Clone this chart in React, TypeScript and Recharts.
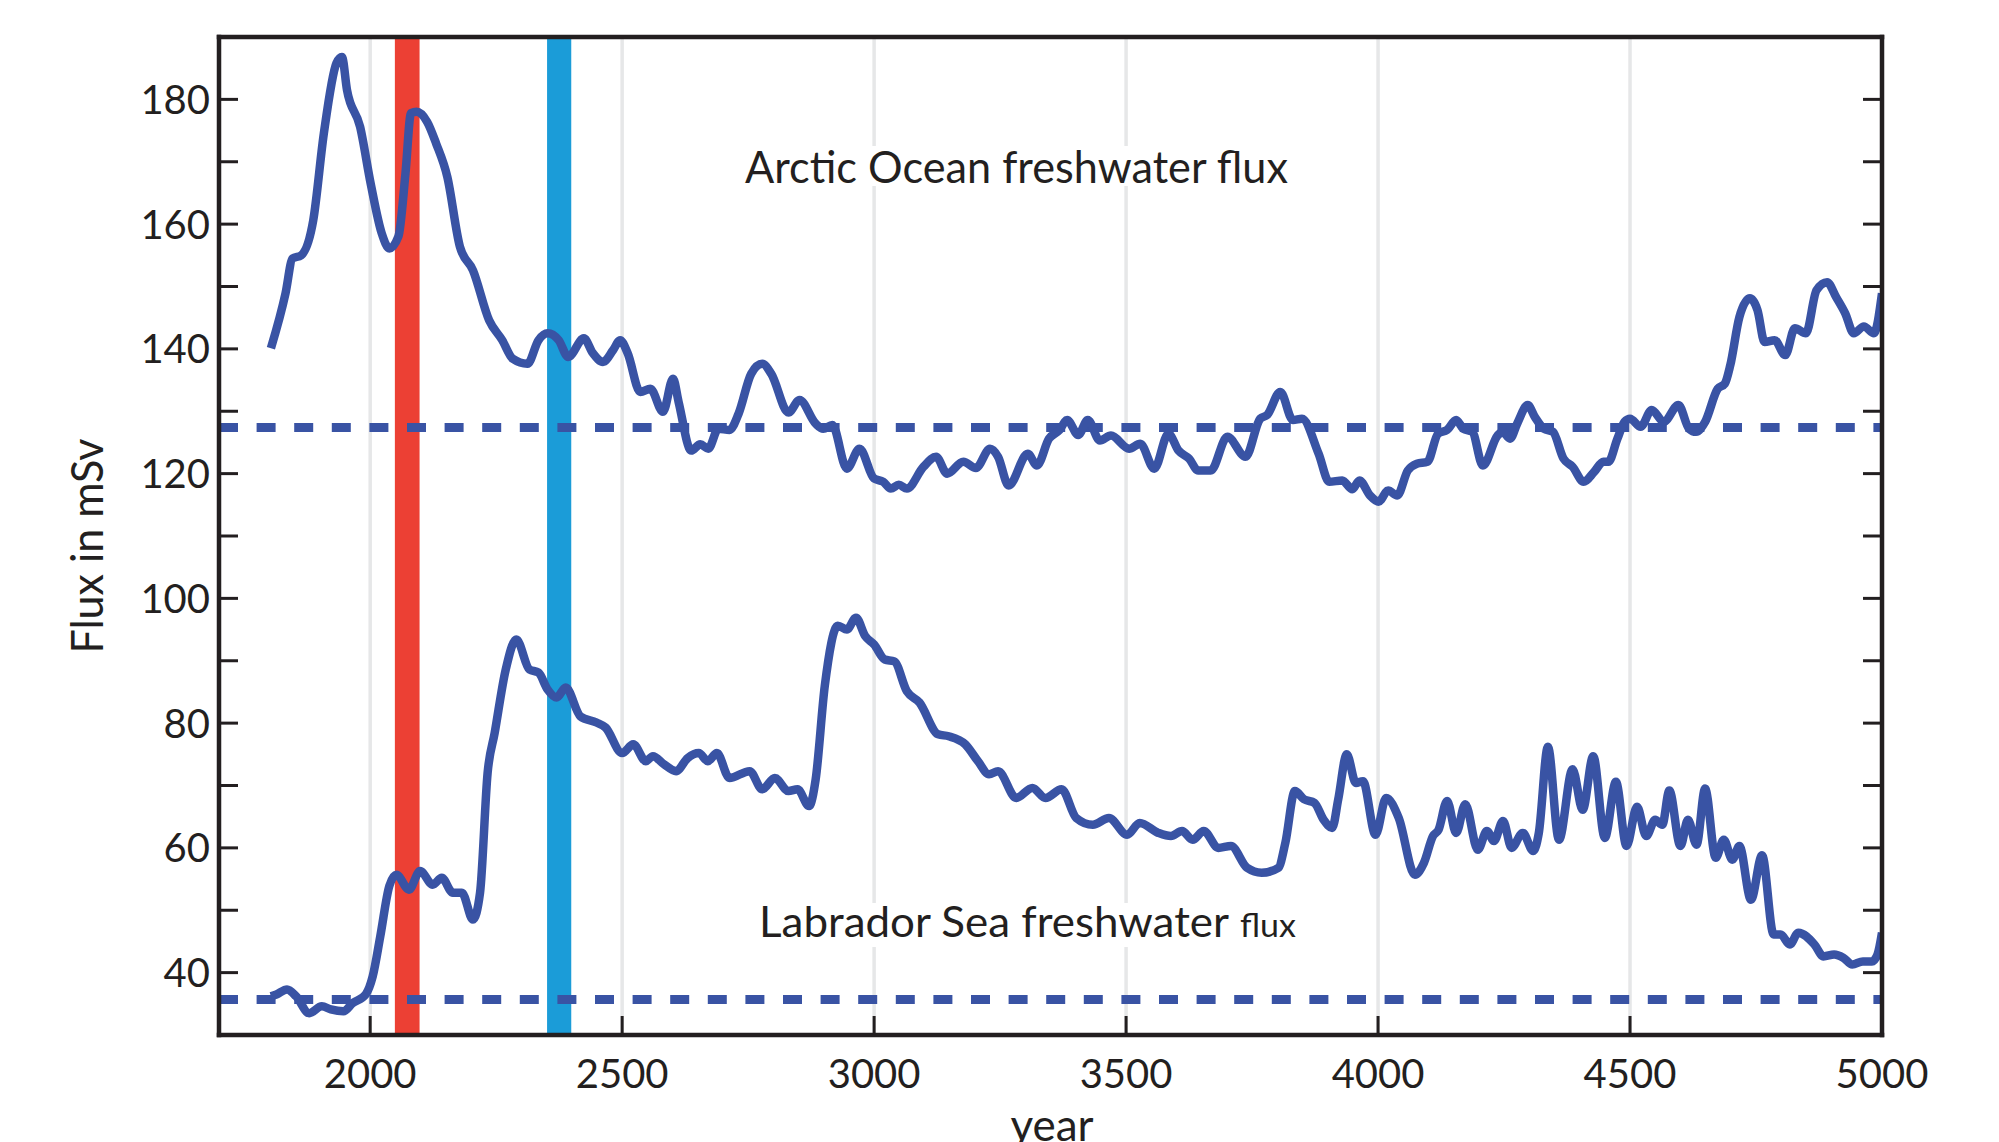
import { LineChart, Line, XAxis, YAxis, CartesianGrid, ReferenceArea, ReferenceLine } from 'recharts';

// years and fluxes (mSv)
const arcticYears = [
  1803, 1832, 1846, 1863, 1887, 1908, 1933, 1944, 1954, 1980, 2001, 2023, 2038, 2056, 2070, 2081, 2092, 2113,
  2131, 2153, 2178, 2204, 2236, 2262, 2283, 2312, 2334, 2352, 2374, 2393, 2424, 2442, 2462, 2482, 2496, 2511,
  2536, 2556, 2581, 2601, 2612, 2637, 2655, 2671, 2691, 2713, 2731, 2756, 2778, 2796, 2830, 2852, 2884, 2899,
  2917, 2946, 2971, 3000, 3018, 3033, 3049, 3065, 3098, 3123, 3145, 3177, 3202, 3230, 3246, 3267, 3305, 3323,
  3347, 3368, 3383, 3405, 3424, 3448, 3470, 3506, 3528, 3556, 3584, 3604, 3625, 3643, 3668, 3701, 3737, 3766,
  3780, 3806, 3831, 3849, 3882, 3903, 3929, 3949, 3963, 3984, 4001, 4020, 4038, 4059, 4077, 4098, 4119, 4137,
  4155, 4169, 4187, 4208, 4237, 4247, 4262, 4276, 4297, 4311, 4329, 4347, 4368, 4386, 4408, 4429, 4447, 4457,
  4475, 4489, 4500, 4521, 4543, 4567, 4596, 4617, 4631, 4649, 4674, 4688, 4699, 4717, 4738, 4753, 4767, 4787,
  4808, 4827, 4849, 4870, 4891, 4909, 4927, 4944, 4964, 4984, 5000,
];
const arcticFlux = [
  140.1, 148.9, 154.5, 155.0, 160.6, 174.5, 185.8, 186.8, 181.5, 175.6, 166.5, 158.5, 156.1, 158.0, 168.1, 177.8, 178.0, 176.4,
  172.9, 167.6, 156.4, 152.6, 144.6, 141.4, 138.4, 137.6, 141.4, 142.5, 141.4, 138.7, 141.7, 139.3, 137.9, 139.8, 141.4, 139.3,
  133.1, 133.6, 129.9, 135.2, 131.5, 123.7, 124.7, 124.0, 127.2, 127.0, 129.6, 136.0, 137.6, 136.0, 129.8, 131.8, 128.0, 127.2,
  127.8, 120.8, 124.0, 119.2, 118.7, 117.6, 118.2, 117.6, 121.1, 122.7, 120.0, 121.9, 120.9, 124.0, 122.7, 118.1, 123.2, 121.3,
  125.6, 127.0, 128.6, 126.2, 128.6, 125.3, 126.1, 124.0, 124.8, 120.8, 126.4, 123.7, 122.4, 120.5, 120.5, 125.9, 122.7, 128.8,
  129.4, 133.1, 128.6, 128.8, 123.2, 118.7, 118.9, 117.5, 118.9, 116.5, 115.5, 117.3, 116.5, 120.5, 121.6, 121.9, 126.4, 127.0,
  128.6, 127.2, 126.7, 121.3, 126.1, 126.7, 125.6, 128.0, 131.0, 129.1, 127.2, 126.7, 122.4, 121.1, 118.7, 120.3, 121.9, 121.9,
  125.6, 128.3, 128.8, 127.5, 130.2, 128.3, 131.0, 127.2, 126.7, 128.3, 133.6, 134.4, 137.4, 145.1, 148.1, 146.2, 141.1, 141.4,
  139.0, 143.3, 142.5, 149.4, 150.7, 148.3, 145.7, 142.5, 143.6, 142.5, 148.9,
];

const labradorYears = [
  1803, 1814, 1835, 1853, 1879, 1904, 1922, 1947, 1965, 1991, 2005, 2020, 2038, 2052, 2077, 2099, 2124, 2142,
  2164, 2182, 2204, 2218, 2233, 2247, 2269, 2290, 2316, 2334, 2352, 2370, 2388, 2417, 2449, 2467, 2500, 2522,
  2547, 2561, 2583, 2607, 2630, 2652, 2670, 2688, 2713, 2753, 2778, 2803, 2830, 2848, 2871, 2884, 2902, 2928,
  2946, 2964, 2982, 3000, 3021, 3040, 3065, 3090, 3127, 3148, 3181, 3206, 3228, 3246, 3282, 3314, 3340, 3372,
  3401, 3434, 3466, 3502, 3527, 3564, 3589, 3611, 3632, 3654, 3683, 3708, 3740, 3769, 3802, 3816, 3835, 3853,
  3874, 3892, 3909, 3921, 3938, 3956, 3970, 3995, 4016, 4041, 4073, 4091, 4109, 4120, 4137, 4155, 4173, 4198,
  4216, 4230, 4248, 4265, 4287, 4308, 4319, 4337, 4359, 4386, 4406, 4427, 4450, 4472, 4493, 4514, 4532, 4550,
  4564, 4578, 4600, 4615, 4632, 4649, 4670, 4686, 4703, 4717, 4740, 4762, 4785, 4799, 4817, 4834, 4866, 4884,
  4905, 4923, 4941, 4962, 4980, 4991, 5000,
];
const labradorFlux = [
  36.2, 36.5, 37.3, 36.2, 33.5, 34.6, 34.1, 33.8, 35.1, 36.5, 39.4, 45.8, 53.9, 55.7, 53.3, 56.3, 54.1, 55.2,
  52.8, 52.8, 48.5, 52.8, 72.0, 78.4, 88.6, 93.4, 88.6, 88.1, 85.4, 84.1, 85.7, 81.1, 80.1, 79.3, 75.2, 76.6,
  73.9, 74.7, 73.4, 72.3, 74.4, 75.2, 73.9, 75.2, 71.2, 72.3, 69.4, 71.2, 69.1, 69.4, 66.7, 71.0, 85.9, 95.6,
  95.0, 96.9, 94.0, 92.6, 90.2, 89.9, 85.1, 83.3, 78.2, 77.9, 76.6, 73.9, 71.8, 72.3, 68.0, 69.6, 68.0, 69.4,
  64.8, 63.7, 64.8, 62.1, 64.0, 62.4, 61.9, 62.7, 61.3, 62.7, 60.0, 60.3, 56.8, 56.0, 56.8, 60.8, 69.1, 67.8,
  67.2, 64.5, 63.2, 67.8, 75.0, 70.4, 70.7, 62.1, 68.0, 64.8, 55.7, 57.6, 61.9, 62.9, 67.5, 62.4, 67.0, 59.7,
  62.7, 61.1, 64.3, 60.0, 62.4, 59.5, 62.4, 76.2, 61.3, 72.6, 66.1, 74.7, 61.6, 70.6, 60.3, 66.6, 61.9, 64.5,
  63.7, 69.2, 60.3, 64.5, 60.5, 69.5, 58.4, 61.3, 58.1, 60.3, 51.7, 58.8, 46.1, 46.1, 44.5, 46.4, 44.5, 42.6,
  42.9, 42.4, 41.3, 41.8, 41.8, 42.9, 46.4,
];

const arcticMean = 127.4;
const labradorMean = 35.7;
const redEvent = [2049, 2098];
const blueEvent = [2351, 2399];

const xTicks = [2000, 2500, 3000, 3500, 4000, 4500, 5000];
const yTicks = [40, 50, 60, 70, 80, 90, 100, 110, 120, 130, 140, 150, 160, 170, 180];

const arcticData = arcticYears.map((year, i) => ({ year, flux: arcticFlux[i] }));
const labradorData = labradorYears.map((year, i) => ({ year, flux: labradorFlux[i] }));

const INK = '#231f20';
const LINE = '#3953a4';
const FONT = 'Lato, "Open Sans", sans-serif';
const TICK = 19;

const LeftTick = ({ x, y, payload }: any) => (
  <g>
    <line x1={x} y1={y} x2={x + TICK} y2={y} stroke={INK} strokeWidth={3} />
    {payload.value % 20 === 0 && (
      <text x={x - 9} y={y + 14.5} textAnchor="end" fontSize={40} fontFamily={FONT} fill={INK}>
        {payload.value}
      </text>
    )}
  </g>
);

const RightTick = ({ x, y }: any) => (
  <line x1={x} y1={y} x2={x - TICK} y2={y} stroke={INK} strokeWidth={3} />
);

const BottomTick = ({ x, y, payload }: any) => (
  <g>
    <line x1={x} y1={y} x2={x} y2={y - TICK} stroke={INK} strokeWidth={3} />
    <text x={x} y={y + 53} textAnchor="middle" fontSize={40} fontFamily={FONT} fill={INK}>
      {payload.value}
    </text>
  </g>
);

const TopTick = ({ x, y }: any) => (
  <line x1={x} y1={y} x2={x} y2={y + TICK} stroke={INK} strokeWidth={3} />
);

const frame = { stroke: INK, strokeWidth: 4.5, strokeLinecap: 'square' as const };

export default function App() {
  return (
    <div style={{ position: 'absolute', left: 0, top: 0, width: 1999, height: 1142, background: '#fff' }}>
      <LineChart width={1999} height={1142} margin={{ top: 35, right: 115, bottom: 0, left: 0 }}>
        <CartesianGrid xAxisId="bottom" yAxisId="left" horizontal={false} stroke="#e6e7e8" strokeWidth={3.5} />
        <ReferenceArea xAxisId="bottom" yAxisId="left" x1={redEvent[0]} x2={redEvent[1]} fill="#ec4034" fillOpacity={1} stroke="none" />
        <ReferenceArea xAxisId="bottom" yAxisId="left" x1={blueEvent[0]} x2={blueEvent[1]} fill="#1b9cd8" fillOpacity={1} stroke="none" />
        <ReferenceLine xAxisId="bottom" yAxisId="left" y={arcticMean} stroke={LINE} strokeWidth={9} strokeDasharray="19 18.6" />
        <ReferenceLine xAxisId="bottom" yAxisId="left" y={labradorMean} stroke={LINE} strokeWidth={9} strokeDasharray="19 18.6" />
        <Line data={arcticData} dataKey="flux" xAxisId="bottom" yAxisId="left" type="monotone" stroke={LINE}
          strokeWidth={8.5} strokeLinejoin="round" dot={false} activeDot={false} isAnimationActive={false} />
        <Line data={labradorData} dataKey="flux" xAxisId="bottom" yAxisId="left" type="monotone" stroke={LINE}
          strokeWidth={8.5} strokeLinejoin="round" dot={false} activeDot={false} isAnimationActive={false} />
        <XAxis xAxisId="bottom" dataKey="year" type="number" domain={[1700, 5000]} ticks={xTicks} interval={0}
          height={107} tickSize={0} tickMargin={0} tickLine={false} tick={BottomTick} axisLine={frame} allowDataOverflow />
        <XAxis xAxisId="top" orientation="top" type="number" domain={[1700, 5000]} ticks={xTicks} interval={0}
          height={2} tickSize={0} tickMargin={0} tickLine={false} tick={TopTick} axisLine={frame} allowDataOverflow />
        <YAxis yAxisId="left" type="number" domain={[30, 190]} ticks={yTicks} interval={0}
          width={219} tickSize={0} tickMargin={0} tickLine={false} tick={LeftTick} axisLine={frame} allowDataOverflow />
        <YAxis yAxisId="right" orientation="right" type="number" domain={[30, 190]} ticks={yTicks} interval={0}
          width={2} tickSize={0} tickMargin={0} tickLine={false} tick={RightTick} axisLine={frame} allowDataOverflow />
      </LineChart>
      <svg width={1999} height={1142} style={{ position: 'absolute', left: 0, top: 0, pointerEvents: 'none' }}>
        <g fontFamily={FONT} fill={INK}>
          <rect x={740} y={146} width={553} height={40} fill="#fff" />
          <text x={745} y={183} fontSize={44} textLength={543} lengthAdjust="spacingAndGlyphs">
            Arctic Ocean freshwater flux
          </text>
          <rect x={754} y={903} width={547} height={44} fill="#fff" />
          <text x={759} y={937} fontSize={43} textLength={470} lengthAdjust="spacingAndGlyphs">
            Labrador Sea freshwater
          </text>
          <text x={1240} y={937} fontSize={32} textLength={56} lengthAdjust="spacingAndGlyphs">
            flux
          </text>
          <text x={103} y={546} fontSize={44} textAnchor="middle" transform="rotate(-90 103 546)"
            textLength={215} lengthAdjust="spacingAndGlyphs">
            Flux in mSv
          </text>
          <text x={1052} y={1141} fontSize={44} textAnchor="middle">
            year
          </text>
        </g>
      </svg>
    </div>
  );
}
